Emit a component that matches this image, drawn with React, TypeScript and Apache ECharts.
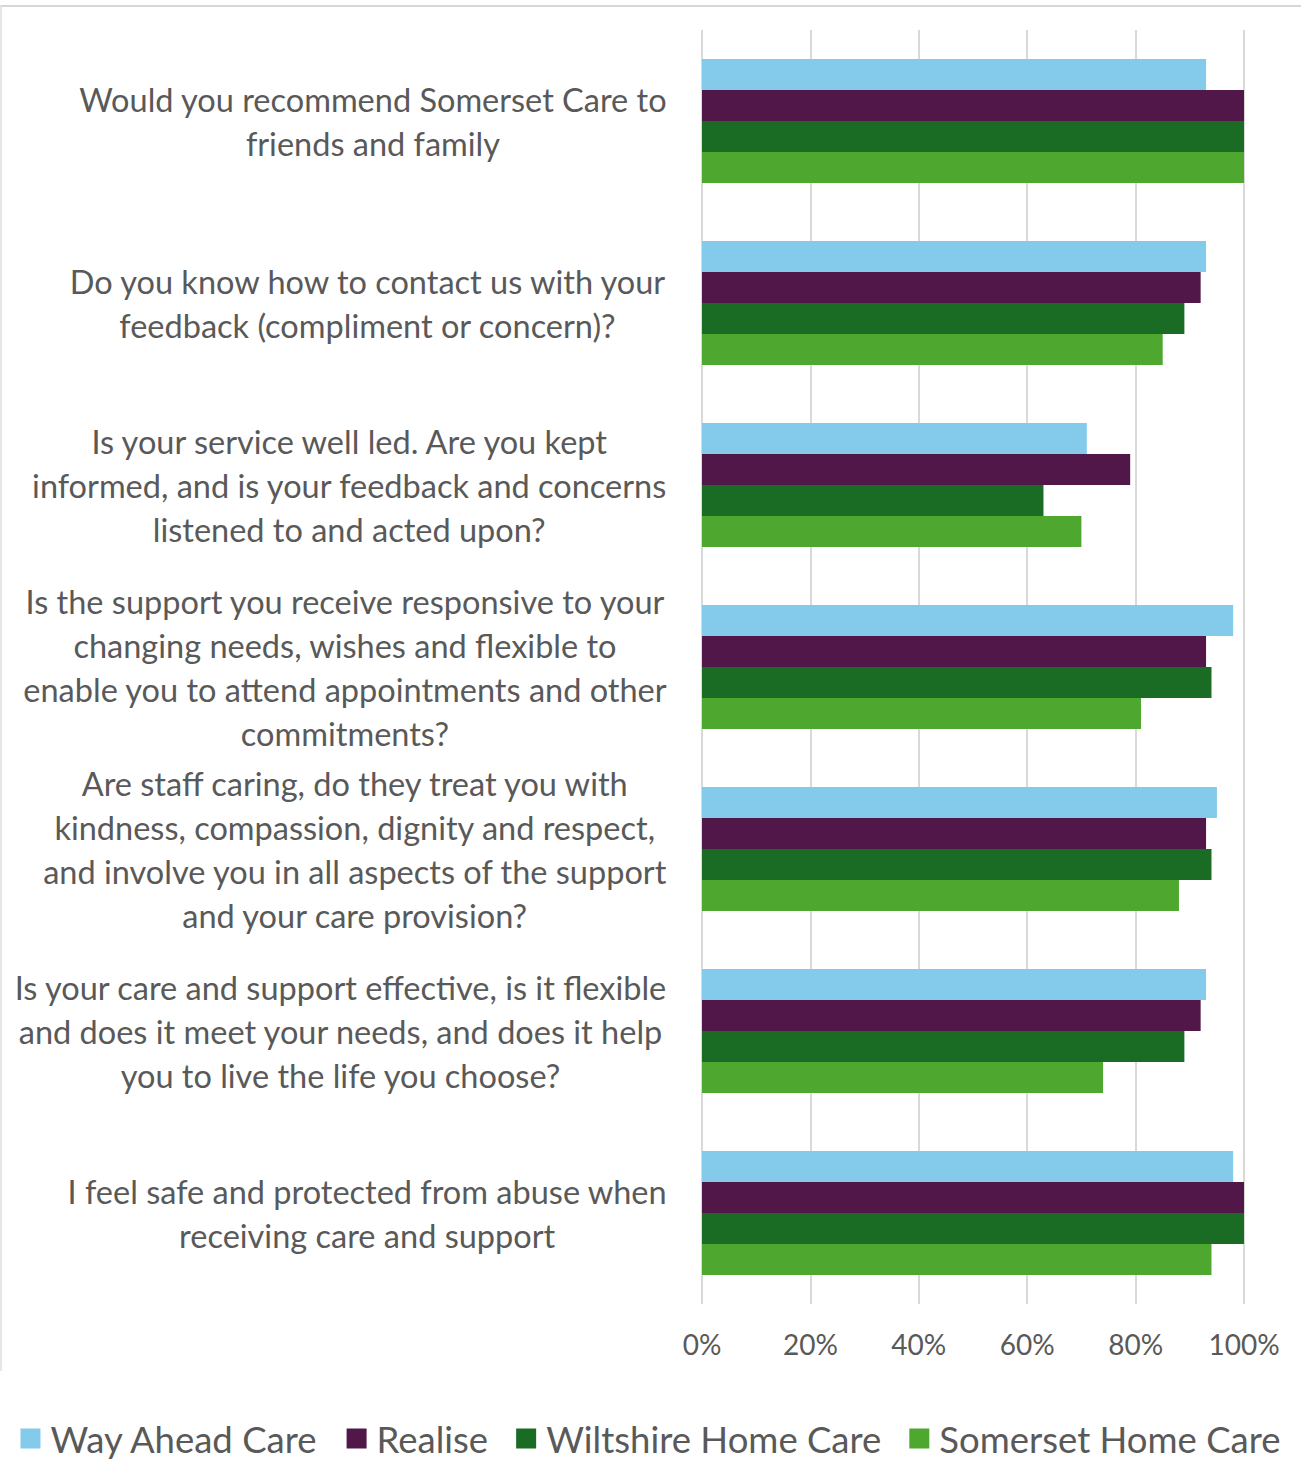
import React, { useEffect, useRef } from "react";
import * as echarts from "echarts";

const categories = [
  "Would you recommend Somerset Care to\nfriends and family",
  "Do you know how to contact us with your\nfeedback (compliment or concern)?",
  "Is your service well led. Are you kept\ninformed, and is your feedback and concerns\nlistened to and acted upon?",
  "Is the support you receive responsive to your\nchanging needs, wishes and flexible to\nenable you to attend appointments and other\ncommitments?",
  "Are staff caring, do they treat you with\nkindness, compassion, dignity and respect,\nand involve you in all aspects of the support\nand your care provision?",
  "Is your care and support effective, is it flexible\nand does it meet your needs, and does it help\nyou to live the life you choose?",
  "I feel safe and protected from abuse when\nreceiving care and support",
];

const seriesNames = ["Way Ahead Care", "Realise", "Wiltshire Home Care", "Somerset Home Care"];
const wayAheadCare = [0.93, 0.93, 0.71, 0.98, 0.95, 0.93, 0.98];
const realise = [1.0, 0.92, 0.79, 0.93, 0.93, 0.92, 1.0];
const wiltshireHomeCare = [1.0, 0.89, 0.63, 0.94, 0.94, 0.89, 1.0];
const somersetHomeCare = [1.0, 0.85, 0.7, 0.81, 0.88, 0.74, 0.94];
const colors = ["#83CAEB", "#501748", "#1A6B24", "#4EA72E"];
const xTicks = [0, 0.2, 0.4, 0.6, 0.8, 1.0];

const FONT = "Lato";
const GREY = "#595959";

export default function App() {
  const ref = useRef<HTMLDivElement>(null);
  useEffect(() => {
    const chart = echarts.init(ref.current!, null, { renderer: "svg" });
    const values = [wayAheadCare, realise, wiltshireHomeCare, somersetHomeCare];
    chart.setOption({
      animation: false,
      textStyle: { fontFamily: FONT },
      grid: { left: 702, right: 57, top: 30, bottom: 178, containLabel: false },
      legend: {
        bottom: 20,
        left: "center",
        itemWidth: 20,
        itemHeight: 20,
        itemGap: 28,
        icon: "rect",
        textStyle: { fontSize: 36.5, color: GREY, fontFamily: FONT, padding: [0, 0, 0, 5] },
        data: seriesNames,
      },
      xAxis: {
        type: "value",
        min: 0,
        max: 1,
        interval: 0.2,
        axisLine: { show: false },
        axisTick: { show: false },
        splitLine: { show: true, lineStyle: { color: "#d9d9d9", width: 2 } },
        axisLabel: {
          fontSize: 28,
          color: GREY,
          margin: 26,
          fontFamily: FONT,
          formatter: (v: number) => (xTicks.includes(Math.round(v * 10) / 10) ? Math.round(v * 100) + "%" : ""),
        },
      },
      yAxis: {
        type: "category",
        inverse: true,
        data: categories,
        axisLine: { show: false },
        axisTick: { show: false },
        axisLabel: {
          margin: 35,
          formatter: (v: string) => v.split("\n").map((l) => "{c|" + l + "}").join("\n"),
          rich: { c: { fontSize: 32.5, lineHeight: 44, color: GREY, align: "center", fontFamily: FONT } },
        },
      },
      series: seriesNames.map((name, i) => ({
        name,
        type: "bar",
        data: values[i],
        barGap: "0%",
        barCategoryGap: "32%",
        itemStyle: { color: colors[i] },
      })),
    });
    return () => chart.dispose();
  }, []);
  return (
    <div style={{ position: "absolute", left: 0, top: 0, width: 1301, height: 1482, background: "#fff" }}>
      <div ref={ref} style={{ position: "absolute", left: 0, top: 0, width: 1301, height: 1482 }} />
      <div
        style={{
          position: "absolute",
          left: 0,
          top: 5,
          width: 1301,
          height: 1366,
          boxSizing: "border-box",
          borderTop: "2px solid #d6d6d6",
          borderLeft: "2px solid #e6e6e6",
          pointerEvents: "none",
        }}
      />
    </div>
  );
}
